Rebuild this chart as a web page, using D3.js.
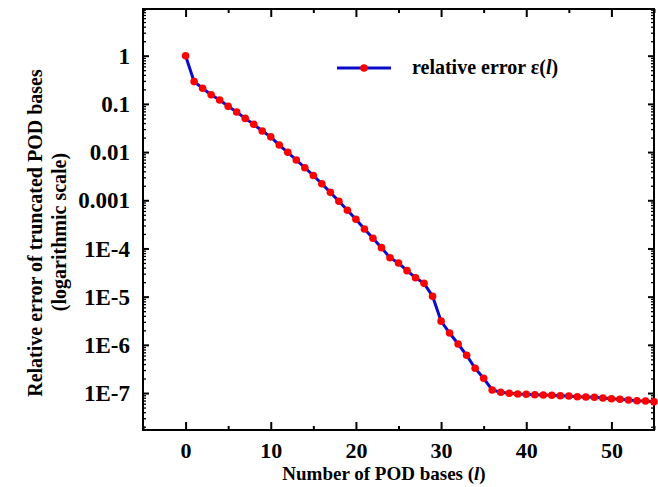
<!DOCTYPE html>
<html>
<head>
<meta charset="utf-8">
<script src="https://cdn.jsdelivr.net/npm/d3@7"></script>
<style>
  body { margin: 0; background: #fff; }
  svg { display: block; }
  text { font-family: "Liberation Serif", "Times New Roman", serif; font-weight: bold; fill: #000; }
</style>
</head>
<body>
<div id="canvas"></div>
<script>
// relative error of truncated POD bases, one value per l = 0..55
var errValues = [
  1, 0.29, 0.211, 0.155, 0.120, 0.089, 0.068, 0.050, 0.0377, 0.0274,
  0.0207, 0.0140, 0.00989, 0.00685, 0.00474, 0.00327, 0.00220, 0.00146, 9.52e-4, 6.2e-4,
  4.03e-4, 2.53e-4, 1.63e-4, 1.04e-4, 6.43e-5, 4.99e-5, 3.46e-5, 2.47e-5, 1.89e-5, 1.02e-5,
  3.1e-6, 1.76e-6, 1.04e-6, 6.07e-7, 3.26e-7, 2.02e-7, 1.16e-7, 1.035e-7, 9.87e-8, 9.55e-8,
  9.41e-8, 9.23e-8, 9.1e-8, 8.97e-8, 8.8e-8, 8.68e-8, 8.39e-8, 8.28e-8, 8.15e-8, 7.88e-8,
  7.62e-8, 7.41e-8, 7.17e-8, 6.93e-8, 6.84e-8, 6.61e-8
];
var xTicks = [0, 10, 20, 30, 40, 50];
var xMinorTicks = [-5, 5, 15, 25, 35, 45, 55];
var yTicks = [1, 0.1, 0.01, 0.001, 1e-4, 1e-5, 1e-6, 1e-7];
var yTickLabels = ['1', '0.1', '0.01', '0.001', '1E-4', '1E-5', '1E-6', '1E-7'];

var outerWidth = 658, outerHeight = 487;
var m = {t: 9, r: 4, b: 57, l: 143};
var w = outerWidth - m.l - m.r,
    h = outerHeight - m.t - m.b;

var svg = d3.select('#canvas')
    .append('svg')
    .attr('width', outerWidth)
    .attr('height', outerHeight);

var plot = svg.append('g')
    .attr('transform', 'translate(' + m.l + ',' + m.t + ')');

var scaleX = d3.scaleLinear().domain([-5, 55]).range([0, w]);
var scaleY = d3.scaleLog().domain([1.71e-8, 9.31]).range([h, 0]);

// minor ticks for the log axis: 2..9 in each decade
var yMinor = [];
for (var d = -8; d <= 0; d++) {
  for (var k = 2; k <= 9; k++) {
    var v = k * Math.pow(10, d);
    if (v >= scaleY.domain()[0] && v <= scaleY.domain()[1]) yMinor.push(v);
  }
}

function styleAxis(g) {
  g.select('.domain').remove();
  g.selectAll('line').attr('stroke', '#000').attr('stroke-width', 2);
}

// minor ticks (left / right / bottom / top)
plot.append('g').call(d3.axisLeft(scaleY).tickValues(yMinor).tickSize(-3).tickFormat(''))
  .call(styleAxis).selectAll('line').attr('stroke-width', 1.3);
plot.append('g').attr('transform', 'translate(' + w + ',0)')
  .call(d3.axisRight(scaleY).tickValues(yMinor).tickSize(-3).tickFormat(''))
  .call(styleAxis).selectAll('line').attr('stroke-width', 1.3);
plot.append('g').attr('transform', 'translate(0,' + h + ')')
  .call(d3.axisBottom(scaleX).tickValues(xMinorTicks).tickSize(-4).tickFormat(''))
  .call(styleAxis);
plot.append('g')
  .call(d3.axisTop(scaleX).tickValues(xMinorTicks).tickSize(-4).tickFormat(''))
  .call(styleAxis);

// major ticks
var axisY = d3.axisLeft(scaleY)
    .tickValues(yTicks)
    .tickSize(-6)
    .tickPadding(13)
    .tickFormat(function(d, i) { return yTickLabels[i]; });
plot.append('g').attr('class', 'axis axis-y').call(axisY).call(styleAxis)
  .selectAll('text')
  .style('font-family', '"Liberation Serif", serif')
  .style('font-size', '23px').attr('dy', '0.33em');

plot.append('g').attr('transform', 'translate(' + w + ',0)')
  .call(d3.axisRight(scaleY).tickValues(yTicks).tickSize(-6).tickFormat(''))
  .call(styleAxis);

var axisX = d3.axisBottom(scaleX)
    .tickValues(xTicks)
    .tickSize(-8)
    .tickPadding(12)
    .tickFormat(d3.format('d'));
plot.append('g').attr('class', 'axis axis-x')
  .attr('transform', 'translate(0,' + h + ')')
  .call(axisX).call(styleAxis)
  .selectAll('text')
  .style('font-family', '"Liberation Serif", serif')
  .style('font-size', '22px');

plot.append('g')
  .call(d3.axisTop(scaleX).tickValues(xTicks).tickSize(-8).tickFormat(''))
  .call(styleAxis);

// frame
plot.append('rect')
  .attr('width', w).attr('height', h)
  .attr('fill', 'none').attr('stroke', '#000').attr('stroke-width', 2);

// series
var line = d3.line()
  .x(function(d, i) { return scaleX(i); })
  .y(function(d) { return scaleY(d); });

plot.append('path')
  .datum(errValues)
  .attr('d', line)
  .attr('fill', 'none')
  .attr('stroke', '#0a0ac8')
  .attr('stroke-width', 3);

plot.selectAll('.pt')
  .data(errValues)
  .enter()
  .append('circle')
  .attr('class', 'pt')
  .attr('cx', function(d, i) { return scaleX(i); })
  .attr('cy', function(d) { return scaleY(d); })
  .attr('r', 3.8)
  .attr('fill', '#ff0000');

// legend
var leg = plot.append('g').attr('transform', 'translate(' + (337 - m.l) + ',' + (68 - m.t) + ')');
leg.append('line').attr('x1', 0).attr('x2', 54).attr('y1', 0).attr('y2', 0)
  .attr('stroke', '#0a0ac8').attr('stroke-width', 3);
leg.append('circle').attr('cx', 27).attr('cy', 0).attr('r', 3.8).attr('fill', '#ff0000');
var legText = leg.append('text').attr('x', 75).attr('y', 6).style('font-size', '20px');
legText.append('tspan').text('relative error \u03b5(');
legText.append('tspan').style('font-style', 'italic').text('l');
legText.append('tspan').text(')');

// axis titles
var xTitle = svg.append('text')
  .attr('x', 384).attr('y', 480)
  .attr('text-anchor', 'middle')
  .style('font-size', '19px');
xTitle.append('tspan').text('Number of POD bases (');
xTitle.append('tspan').style('font-style', 'italic').text('l');
xTitle.append('tspan').text(')');

svg.append('text')
  .attr('transform', 'translate(42,233) rotate(-90)')
  .attr('text-anchor', 'middle')
  .style('font-size', '20px')
  .text('Relative error of truncated POD bases');
svg.append('text')
  .attr('transform', 'translate(66,232) rotate(-90)')
  .attr('text-anchor', 'middle')
  .style('font-size', '20px')
  .text('(logarithmic scale)');
</script>
</body>
</html>
